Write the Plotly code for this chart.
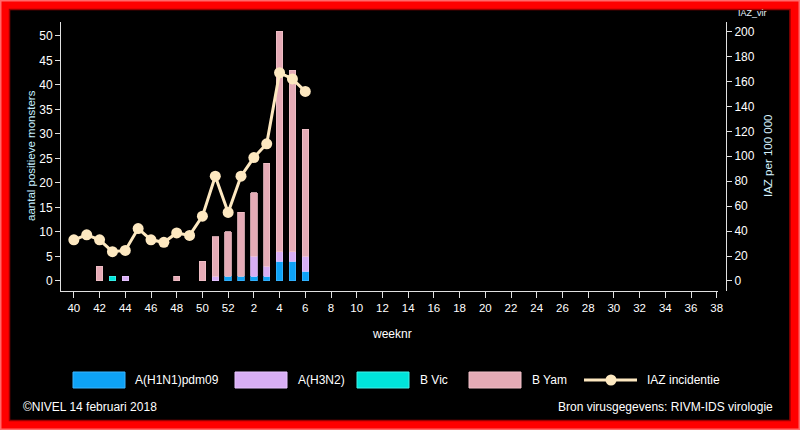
import plotly.graph_objects as go

# ---------------- data ----------------
weeks = [str(w) for w in list(range(40, 53)) + list(range(1, 39))]
tick_weeks = [str(w) for w in [40, 42, 44, 46, 48, 50, 52] + list(range(2, 39, 2))]

def series(d):
    return [d.get(int(w)) for w in weeks]

h1n1 = series({52: 1, 1: 1, 2: 1, 3: 1, 4: 4, 5: 4, 6: 2})
h3n2 = series({44: 1, 51: 1, 2: 4, 3: 2, 4: 2, 5: 2, 6: 3})
bvic = series({43: 1})
byam = series({42: 3, 48: 1, 50: 4, 51: 8, 52: 9, 1: 13, 2: 13, 3: 21, 4: 45, 5: 37, 6: 26})
iaz = series({40: 33, 41: 37, 42: 33, 43: 23.5, 44: 24.5, 45: 42, 46: 33, 47: 31,
              48: 38.5, 49: 36.5, 50: 52, 51: 84, 52: 55, 1: 84, 2: 99, 3: 110,
              4: 167, 5: 162, 6: 152})

names = ["A(H1N1)pdm09", "A(H3N2)", "B Vic", "B Yam"]
colors = ["#0ea2f6", "#d8aef4", "#00e4da", "#e5abb6"]
edge = ["#3ab4ff", "#e6c4ff", "#40f0e8", "#f0c0c8"]
line_color = "#fde8c0"

# ---------------- layout geometry ----------------
W, H = 800, 430
L, R, T, B = 61, 74, 22, 139
PW, PH = W - L - R, H - T - B

def xp(px):
    return (px - L) / PW

def yp(py):
    return (H - B - py) / PH

FONT = "Liberation Sans, Arial, sans-serif"
NARROW = "Liberation Sans Narrow, Arial Narrow, Liberation Sans, Arial, sans-serif"

fig = go.Figure()
for vals, nm, c, e in zip([h1n1, h3n2, bvic, byam], names, colors, edge):
    fig.add_trace(go.Bar(x=weeks, y=vals, name=nm, marker=dict(color=c, line=dict(color=e, width=0.8)),
                         showlegend=False))
fig.add_trace(go.Scatter(x=weeks, y=iaz, yaxis="y2", mode="lines+markers", name="IAZ incidentie",
                         line=dict(color=line_color, width=3),
                         marker=dict(color=line_color, size=11), showlegend=False))

shapes = [
    # frame
    dict(type="rect", xref="paper", yref="paper", x0=xp(0.5), x1=xp(799.5), y0=yp(0.5), y1=yp(429.5),
         line=dict(color="#ff6a6a", width=2), fillcolor="rgba(0,0,0,0)", layer="below"),
    dict(type="rect", xref="paper", yref="paper", x0=xp(9.5), x1=xp(790), y0=yp(9.5), y1=yp(420.5),
         line=dict(color="#9a0000", width=1.5), fillcolor="#000000", layer="below"),
]

def ann(text, x, y, size=12, color="#ffffff", xanchor="center", angle=0):
    return dict(text=text, xref="paper", yref="paper", x=xp(x), y=yp(y), xanchor=xanchor, yanchor="middle",
                textangle=angle, showarrow=False, font=dict(family=FONT, size=size, color=color))

annotations = [
    ann("aantal positieve monsters", 31, 156, size=11.5, color="#c4eeff", angle=-90),
    ann("IAZ per 100 000", 768, 156, size=11.5, color="#d8f4ff", angle=-90),
    ann("IAZ_vir", 752, 13, size=9, color="#e8f4ff"),
    ann("weeknr", 392, 334),
    ann("©NIVEL 14 februari 2018", 21, 407, xanchor="left"),
    ann("Bron virusgegevens: RIVM-IDS virologie", 775, 407, xanchor="right"),
]

# custom legend
leg_boxes = [(73, 125, 133), (235, 287, 296), (357, 409, 418), (469, 521, 530)]
for (x0, x1, tx), nm, c, e in zip(leg_boxes, names, colors, edge):
    shapes.append(dict(type="rect", xref="paper", yref="paper", x0=xp(x0), x1=xp(x1), y0=yp(388), y1=yp(372),
                       fillcolor=c, line=dict(color=e, width=1)))
    annotations.append(ann(nm, tx, 380, xanchor="left"))
shapes.append(dict(type="line", xref="paper", yref="paper", x0=xp(584), x1=xp(637), y0=yp(380), y1=yp(380),
                   line=dict(color=line_color, width=3)))
shapes.append(dict(type="circle", xref="paper", yref="paper", x0=xp(605.5), x1=xp(616.5), y0=yp(385.5), y1=yp(374.5),
                   fillcolor=line_color, line=dict(color=line_color, width=0)))
annotations.append(ann("IAZ incidentie", 645, 380, xanchor="left"))

fig.update_layout(
    width=W, height=H, autosize=False,
    margin=dict(l=L, r=R, t=T, b=B, pad=0),
    paper_bgcolor="#ff0000", plot_bgcolor="rgba(0,0,0,0)",
    barmode="stack", bargap=0.5,
    xaxis=dict(type="category", categoryorder="array", categoryarray=weeks,
               domain=[0, (718 - L) / PW], range=[-1.0, 50.1],
               tickmode="array", tickvals=tick_weeks, ticktext=tick_weeks,
               ticks="outside", ticklen=6, tickcolor="#e0e0e0", tickwidth=1,
               showline=True, linecolor="#e0e0e0", linewidth=1, showgrid=False, zeroline=False,
               tickfont=dict(family=FONT, size=11.5, color="#ffffff")),
    yaxis=dict(range=[-2.05, 52.85], tickmode="array", tickvals=list(range(0, 51, 5)),
               ticks="outside", ticklen=5, tickcolor="#e0e0e0", tickwidth=1,
               showline=True, linecolor="#e0e0e0", linewidth=1, showgrid=False, zeroline=False,
               tickfont=dict(family=NARROW, size=12, color="#ffffff")),
    yaxis2=dict(overlaying="y", side="right", anchor="free", position=1,
                range=[-8.05, 207.7], tickmode="array", tickvals=list(range(0, 201, 20)),
                ticks="outside", ticklen=5, tickcolor="#e0e0e0", tickwidth=1,
                showline=True, linecolor="#e0e0e0", linewidth=1, showgrid=False, zeroline=False,
                tickfont=dict(family=NARROW, size=12, color="#ffffff")),
    shapes=shapes, annotations=annotations, showlegend=False,
)

fig.write_html("out.html")
